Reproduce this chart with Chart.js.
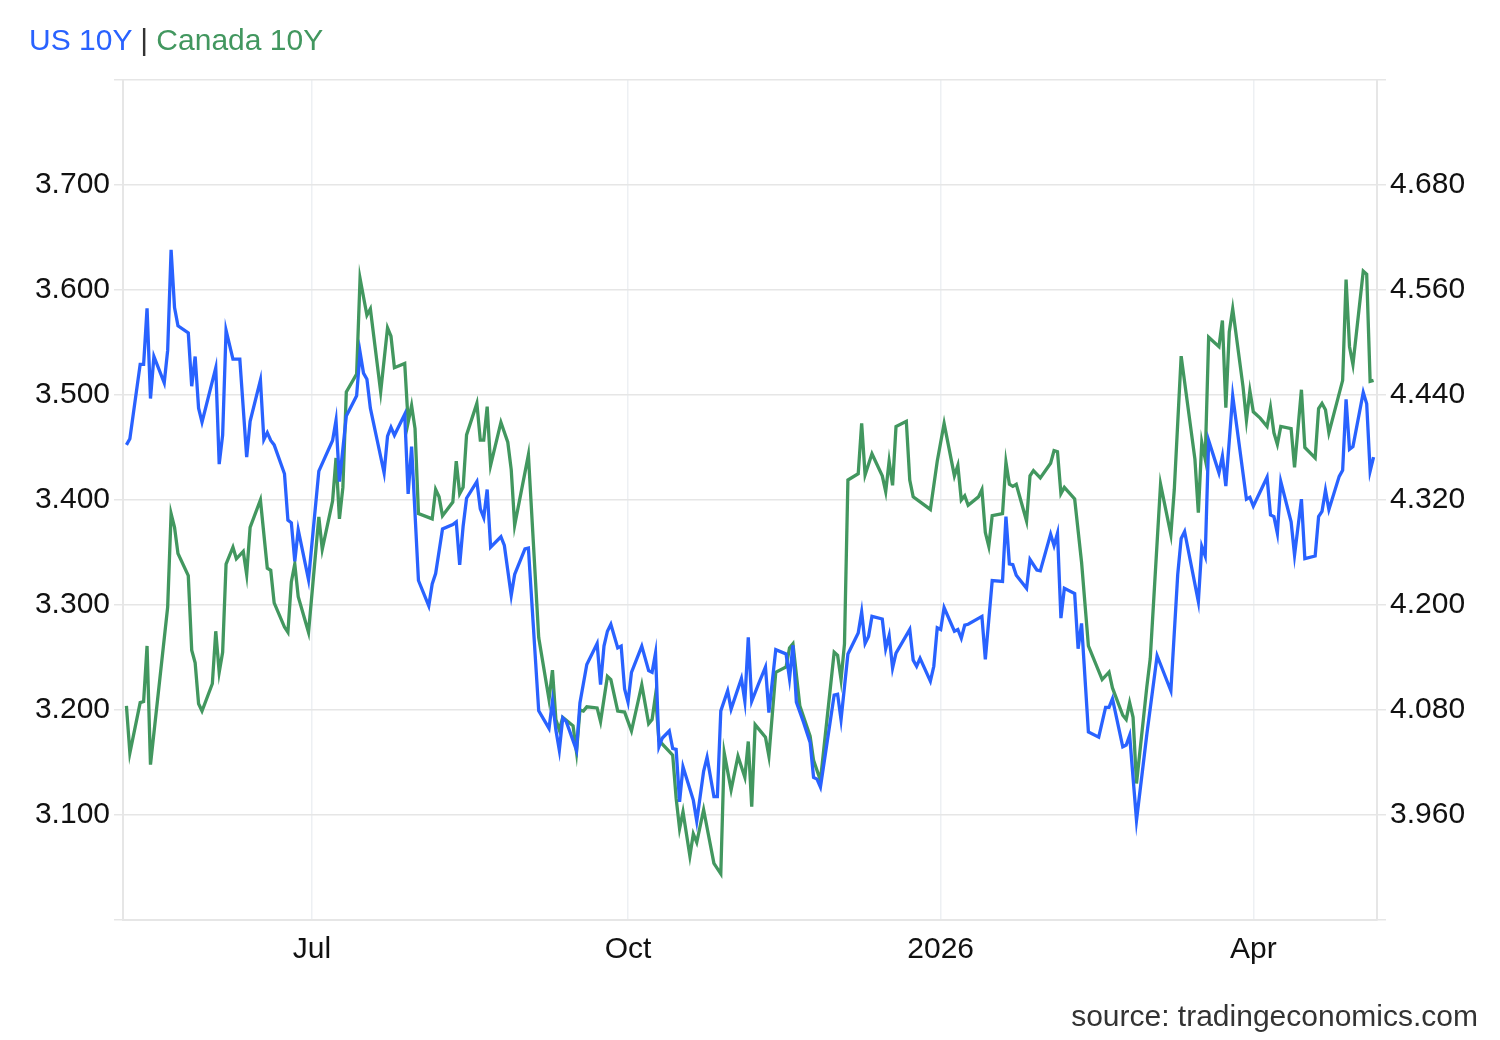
<!DOCTYPE html>
<html><head><meta charset="utf-8">
<script src="https://cdn.jsdelivr.net/npm/chart.js@4.4.1/dist/chart.umd.min.js"></script>
<style>
html,body{margin:0;padding:0;background:#fff;}
#wrap{position:relative;width:1500px;height:1040px;font-family:"Liberation Sans",Arial,sans-serif;}
#title{position:absolute;left:29px;top:21px;font-size:30px;line-height:38px;white-space:nowrap;}
#source{position:absolute;right:22px;top:997px;font-size:30px;line-height:38px;color:#333;white-space:nowrap;}
canvas{position:absolute;left:0;top:0;}
</style></head>
<body><div id="wrap"><canvas id="c" width="1500" height="1040"></canvas>
<div id="title"><span style="color:#2962ff">US 10Y</span> <span style="color:#333">|</span> <span style="color:#42975f">Canada 10Y</span></div>
<div id="source">source: tradingeconomics.com</div></div>
<script>
// day offsets from 2025-05-07
const usDays = [1,2,5,6,7,8,9,12,13,14,15,16,19,20,21,22,23,27,28,29,30,32,34,36,37,40,41,42,43,44,47,48,49,50,51,54,57,61,62,63,65,68,69,70,71,72,74,76,77,78,79,82,83,84,86,89,90,91,93,96,97,98,99,100,103,104,105,106,107,110,111,113,114,117,118,121,124,125,126,127,128,129,132,133,135,138,139,140,141,142,144,145,146,147,148,151,153,154,155,156,157,159,160,161,162,163,166,167,169,170,172,173,174,176,177,180,181,182,183,185,187,188,190,193,194,195,196,198,200,201,202,203,207,208,209,211,214,215,216,217,218,221,222,223,224,225,229,230,231,232,235,236,237,238,239,242,243,244,245,246,250,251,253,256,257,258,259,260,263,264,266,267,270,271,272,273,274,277,278,279,281,284,286,287,288,291,292,293,295,298,301,305,307,308,309,313,314,315,316,319,320,321,323,327,328,329,333,334,335,336,337,340,341,343,344,347,348,349,350,351,354,355,356,357,358,361,362,363,364];
const usYield = [4.383,4.390,4.475,4.475,4.539,4.436,4.484,4.454,4.491,4.606,4.540,4.519,4.511,4.450,4.484,4.425,4.409,4.471,4.361,4.394,4.514,4.481,4.481,4.369,4.410,4.457,4.389,4.397,4.388,4.383,4.350,4.297,4.294,4.250,4.286,4.229,4.353,4.388,4.411,4.341,4.416,4.439,4.489,4.465,4.458,4.425,4.388,4.351,4.393,4.403,4.394,4.418,4.327,4.381,4.228,4.199,4.224,4.236,4.287,4.292,4.295,4.246,4.290,4.322,4.341,4.310,4.300,4.332,4.266,4.278,4.268,4.211,4.235,4.264,4.265,4.079,4.059,4.090,4.057,4.034,4.071,4.067,4.034,4.088,4.132,4.156,4.109,4.153,4.170,4.178,4.151,4.153,4.104,4.089,4.123,4.153,4.125,4.123,4.145,4.038,4.048,4.056,4.036,4.035,3.975,4.015,3.977,3.953,4.010,4.026,3.981,3.981,4.079,4.102,4.081,4.116,4.090,4.163,4.090,4.110,4.129,4.077,4.149,4.144,4.116,4.154,4.089,4.067,4.043,4.003,4.001,3.992,4.097,4.098,4.069,4.144,4.168,4.192,4.156,4.164,4.187,4.184,4.150,4.165,4.128,4.145,4.172,4.137,4.130,4.139,4.113,4.130,4.174,4.172,4.197,4.170,4.172,4.162,4.177,4.178,4.187,4.138,4.228,4.227,4.301,4.247,4.246,4.234,4.219,4.252,4.240,4.239,4.281,4.268,4.282,4.185,4.219,4.213,4.150,4.179,4.055,4.049,4.083,4.083,4.093,4.038,4.040,4.051,3.954,4.052,4.142,4.102,4.235,4.276,4.284,4.204,4.267,4.256,4.388,4.351,4.370,4.336,4.439,4.321,4.323,4.313,4.346,4.303,4.301,4.282,4.341,4.295,4.257,4.321,4.253,4.256,4.301,4.307,4.331,4.309,4.347,4.354,4.435,4.378,4.381,4.443,4.430,4.353,4.369];
const caDays = [1,2,5,6,7,8,13,14,15,16,19,20,21,22,23,26,27,28,29,30,32,33,35,36,37,40,42,43,44,47,48,49,50,51,54,57,58,61,62,63,64,65,68,69,71,72,75,77,78,79,82,83,84,85,86,90,91,92,93,96,97,98,99,100,103,104,105,106,107,110,112,113,114,118,121,124,125,126,127,128,131,132,133,134,135,138,139,141,142,144,146,148,151,153,154,155,156,160,161,162,163,165,166,167,169,172,174,175,177,179,181,182,183,184,185,187,188,190,193,194,195,197,200,201,203,207,208,209,210,211,214,215,216,218,221,222,223,224,225,228,229,230,235,237,239,242,243,244,245,246,249,250,251,252,253,256,257,258,259,260,263,264,265,267,270,271,272,273,274,277,279,281,285,287,288,291,292,293,294,295,298,299,302,305,306,308,312,313,314,315,316,319,320,321,322,323,326,327,328,329,331,333,334,335,336,337,340,341,343,344,347,348,349,350,351,355,356,357,358,361,362,363,364];
const caYield = [3.204,3.159,3.207,3.208,3.261,3.148,3.298,3.387,3.374,3.349,3.328,3.257,3.245,3.206,3.199,3.225,3.275,3.236,3.255,3.339,3.355,3.344,3.351,3.329,3.374,3.400,3.335,3.333,3.302,3.279,3.274,3.322,3.339,3.308,3.274,3.384,3.353,3.399,3.440,3.382,3.412,3.503,3.520,3.611,3.576,3.582,3.503,3.564,3.556,3.526,3.530,3.474,3.490,3.468,3.387,3.382,3.410,3.403,3.385,3.398,3.437,3.406,3.412,3.462,3.492,3.457,3.457,3.489,3.433,3.474,3.455,3.429,3.376,3.443,3.269,3.210,3.238,3.191,3.181,3.193,3.185,3.160,3.200,3.199,3.203,3.202,3.189,3.232,3.229,3.199,3.198,3.180,3.224,3.187,3.191,3.214,3.171,3.157,3.116,3.087,3.103,3.061,3.082,3.074,3.105,3.054,3.044,3.159,3.124,3.156,3.136,3.170,3.108,3.186,3.182,3.174,3.156,3.236,3.241,3.259,3.263,3.204,3.175,3.152,3.133,3.255,3.252,3.229,3.263,3.419,3.425,3.473,3.424,3.444,3.423,3.408,3.437,3.414,3.470,3.475,3.419,3.403,3.391,3.437,3.473,3.423,3.433,3.400,3.404,3.395,3.403,3.410,3.369,3.356,3.385,3.387,3.436,3.415,3.413,3.415,3.380,3.423,3.428,3.421,3.435,3.447,3.446,3.406,3.412,3.401,3.341,3.261,3.229,3.236,3.221,3.195,3.191,3.207,3.193,3.130,3.222,3.249,3.415,3.367,3.410,3.537,3.439,3.388,3.455,3.439,3.555,3.546,3.571,3.488,3.560,3.582,3.508,3.476,3.504,3.484,3.478,3.470,3.488,3.464,3.453,3.470,3.468,3.431,3.505,3.450,3.440,3.487,3.492,3.486,3.464,3.514,3.610,3.546,3.529,3.618,3.615,3.513,3.514];
const xTickDays = [55,147,238,329];
const xTickLabels = ['Jul','Oct','2026','Apr'];
const caTicks = [3.0,3.1,3.2,3.3,3.4,3.5,3.6,3.7,3.8];
const usTicks = [3.84,3.96,4.08,4.20,4.32,4.44,4.56,4.68,4.80];

const BLUE = '#2962ff', GREEN = '#42975f';
const FONT = {family:'"Liberation Sans", Arial, sans-serif', size:30};
const GRID = '#e6e6e6';

const usData = usDays.map((d,i)=>({x:d,y:usYield[i]}));
const caData = caDays.map((d,i)=>({x:d,y:caYield[i]}));

new Chart(document.getElementById('c'), {
  type:'line',
  data:{datasets:[
    {label:'US 10Y', data:usData, yAxisID:'yR', borderColor:BLUE, borderWidth:3.3, pointRadius:0, tension:0, fill:false},
    {label:'Canada 10Y', data:caData, yAxisID:'yL', borderColor:GREEN, borderWidth:3.3, pointRadius:0, tension:0, fill:false}
  ]},
  options:{
    responsive:false, animation:false, devicePixelRatio:1,
    layout:{padding:{top:80,bottom:0,left:0,right:0}},
    plugins:{legend:{display:false}, tooltip:{enabled:false}},
    scales:{
      x:{type:'linear', min:0, max:365,
        afterBuildTicks:s=>{s.ticks = xTickDays.map(v=>({value:v}));},
        afterFit:s=>{s.height=120;},
        ticks:{autoSkip:false, maxRotation:0, padding:12, color:'#111', font:FONT,
          callback:v=>{const i=xTickDays.indexOf(v); return i>=0?xTickLabels[i]:'';}},
        grid:{color:'#edf0f3', lineWidth:1.5, drawTicks:false},
        border:{display:true, color:GRID, width:2}
      },
      yL:{type:'linear', position:'left', min:3.0, max:3.8,
        afterBuildTicks:s=>{s.ticks = caTicks.map(v=>({value:v}));},
        afterFit:s=>{s.width=123;},
        ticks:{padding:4, color:'#111', font:FONT,
          callback:v=>(v<=caTicks[0]+1e-9||v>=caTicks[caTicks.length-1]-1e-9)?'':v.toFixed(3)},
        grid:{color:GRID, lineWidth:1.5, tickLength:9},
        border:{display:true, color:GRID, width:2}
      },
      yR:{type:'linear', position:'right', min:3.84, max:4.80,
        afterBuildTicks:s=>{s.ticks = usTicks.map(v=>({value:v}));},
        afterFit:s=>{s.width=123;},
        ticks:{padding:4, color:'#111', font:FONT,
          callback:v=>(v<=usTicks[0]+1e-9||v>=usTicks[usTicks.length-1]-1e-9)?'':v.toFixed(3)},
        grid:{color:GRID, lineWidth:1.5, tickLength:9, drawOnChartArea:false},
        border:{display:true, color:GRID, width:2}
      }
    }
  }
});
</script>
</body></html>
